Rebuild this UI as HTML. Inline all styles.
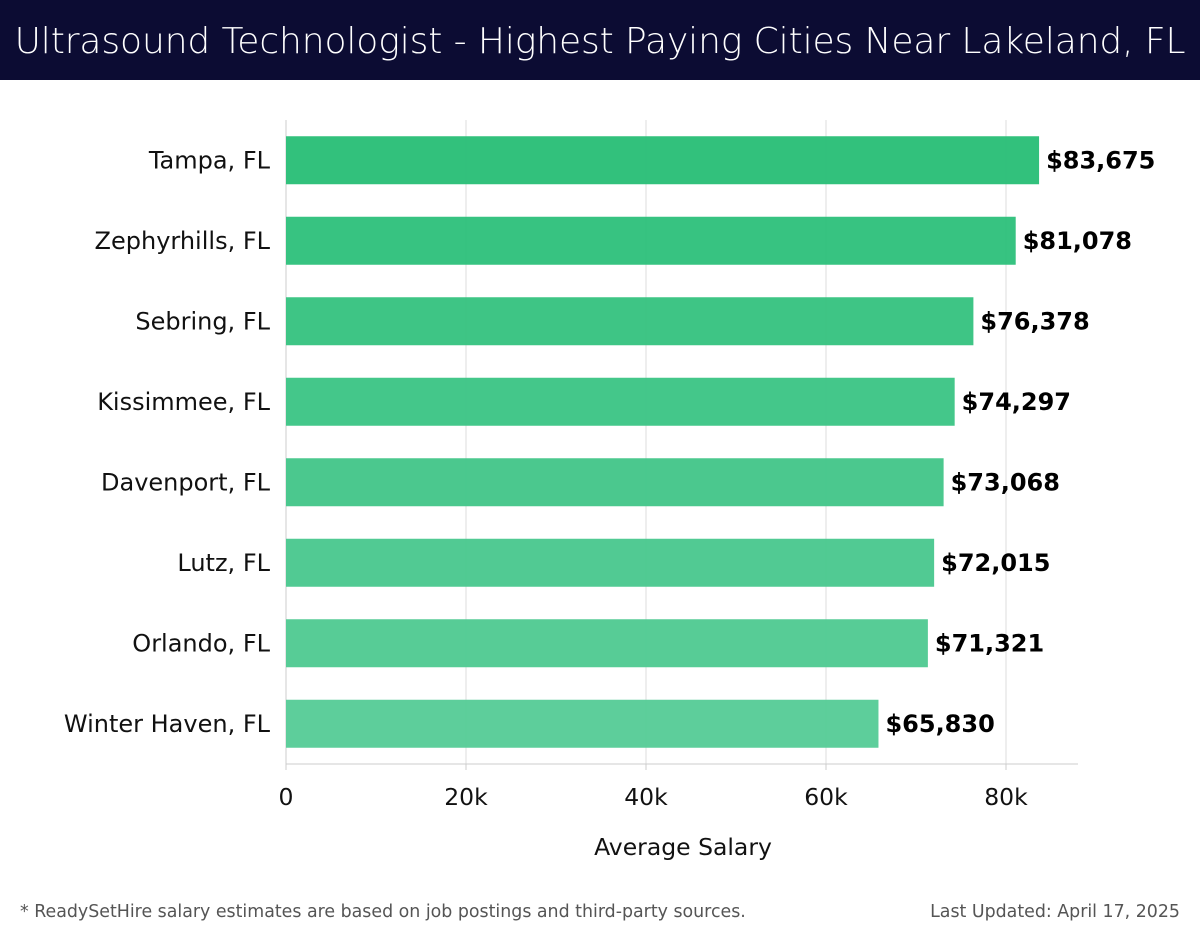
<!DOCTYPE html>
<html><head><meta charset="utf-8"><style>
body{margin:0;width:1200px;height:940px;background:#fff;font-family:"Liberation Sans","DejaVu Sans",sans-serif;overflow:hidden;position:relative}
#title{position:absolute;left:0;top:0;width:1200px;height:80px;background:#0c0c33;color:#fff;font-size:36px;line-height:84px;text-align:center;font-family:"DejaVu Sans","Liberation Sans",sans-serif;font-weight:300;letter-spacing:-0.1px}
.foot{position:absolute;top:902px;font-size:17.4px;color:#555;font-family:"DejaVu Sans","Liberation Sans",sans-serif}
</style></head><body>
<div id="title">Ultrasound Technologist - Highest Paying Cities Near Lakeland, FL</div>
<svg id="chart" width="1200" height="940" style="position:absolute;left:0;top:0;pointer-events:none"></svg>
<div class="foot" style="left:20px">* ReadySetHire salary estimates are based on job postings and third-party sources.</div>
<div class="foot" style="right:20px">Last Updated: April 17, 2025</div>
<script>
const categories=["Tampa, FL","Zephyrhills, FL","Sebring, FL","Kissimmee, FL","Davenport, FL","Lutz, FL","Orlando, FL","Winter Haven, FL"];
const salaries=[83675,81078,76378,74297,73068,72015,71321,65830];
const tickValues=[0,20000,40000,60000,80000];
const tickLabels=["0","20k","40k","60k","80k"];
const NS="http://www.w3.org/2000/svg";
const svg=document.getElementById('chart');
const x0=286,pxPerUnit=720/80000,xMax=88000,plotTop=120,plotBottom=764;
const band=(plotBottom-plotTop)/categories.length;
const xs=v=>x0+v*pxPerUnit;
const yc=i=>plotTop+band*(i+0.5);
function mk(t,a){const e=document.createElementNS(NS,t);for(const k in a)e.setAttribute(k,a[k]);svg.appendChild(e);return e;}
tickValues.forEach((v,i)=>{
 const g=mk('line',{x1:xs(v),x2:xs(v),y1:plotTop,y2:plotBottom,stroke:'#dddddd','stroke-width':1});
 
 
 const t=mk('text',{x:xs(v),y:805,'text-anchor':'middle','font-size':23.5,fill:'#111','font-family':'DejaVu Sans, Liberation Sans, sans-serif'});
 t.textContent=tickLabels[i];
 
 
 const tk=mk('line',{x1:xs(v),x2:xs(v),y1:plotBottom,y2:plotBottom+6,stroke:'#ccc'});
 
 
});
const ax=mk('line',{x1:x0,x2:xs(xMax),y1:plotBottom,y2:plotBottom,stroke:'#ccc','stroke-width':1});


const ay=mk('line',{x1:x0,x2:x0,y1:plotTop,y2:plotBottom,stroke:'#ccc','stroke-width':1});


const c1=[43,191,120],c2=[88,204,152];
categories.forEach((c,i)=>{
 const f=i/(categories.length-1);
 const col=`rgb(${c1.map((v,k)=>Math.round(v+(c2[k]-v)*f)).join(',')})`;
 const r=mk('rect',{x:x0,y:yc(i)-24,width:xs(salaries[i])-x0,height:48,fill:col,'fill-opacity':0.97});
 
 
 const l=mk('text',{x:270,y:yc(i)+8,'text-anchor':'end','font-size':24,fill:'#111','font-family':'DejaVu Sans, Liberation Sans, sans-serif'});
 l.textContent=c;
 
 
 const v=mk('text',{x:xs(salaries[i])+7,y:yc(i)+8,'font-size':24,'font-weight':'bold',fill:'#000','font-family':'DejaVu Sans, Liberation Sans, sans-serif'});
 v.textContent='$'+salaries[i].toLocaleString('en-US');
 
 
});
const at=mk('text',{x:683,y:855,'text-anchor':'middle','font-size':23.5,fill:'#111','font-family':'DejaVu Sans, Liberation Sans, sans-serif'});
at.textContent='Average Salary';


</script>
</body></html>
